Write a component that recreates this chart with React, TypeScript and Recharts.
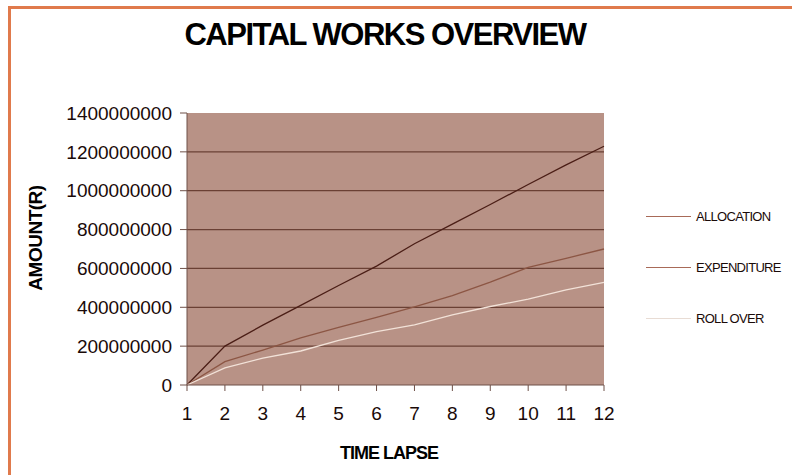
import React from "react";
import {
  LineChart,
  Line,
  XAxis,
  YAxis,
  CartesianGrid,
} from "recharts";

// time lapse periods
const periods = [1, 2, 3, 4, 5, 6, 7, 8, 9, 10, 11, 12];

// amounts in rand
const allocation = [
  0, 200000000, 308000000, 410000000, 512000000, 612000000, 727000000,
  828000000, 929000000, 1032000000, 1133000000, 1229000000,
];
const expenditure = [
  0, 120000000, 180000000, 242000000, 296000000, 348000000, 402000000,
  460000000, 530000000, 605000000, 652000000, 700000000,
];
const rollOver = [
  0, 88000000, 138000000, 175000000, 230000000, 275000000, 310000000,
  361000000, 404000000, 442000000, 490000000, 528000000,
];

const yTicks = [
  0, 200000000, 400000000, 600000000, 800000000, 1000000000, 1200000000,
  1400000000,
];
const gridValues = yTicks.slice(1, -1);

const SERIES = [
  { key: "allocation", name: "ALLOCATION", color: "#4b1e16", legend: "#a86a58" },
  { key: "expenditure", name: "EXPENDITURE", color: "#8c5644", legend: "#a86a58" },
  { key: "rollOver", name: "ROLL OVER", color: "#f2e2d8", legend: "#e8dcd4" },
];

const data = periods.map((p, i) => ({
  period: p,
  allocation: allocation[i],
  expenditure: expenditure[i],
  rollOver: rollOver[i],
}));

const FONT = '"Liberation Sans", Arial, sans-serif';
const TICK = { fill: "#1a0a08", fontSize: 19, fontFamily: FONT };

export default function App() {
  return (
    <div
      style={{
        position: "absolute",
        left: 0,
        top: 0,
        width: 792,
        height: 475,
        background: "#fff",
        overflow: "hidden",
      }}
    >
      {/* orange frame, only top and left edges show */}
      <div
        style={{
          position: "absolute",
          left: 8,
          top: 6,
          width: 900,
          height: 600,
          borderTop: "3px solid #e07a4c",
          borderLeft: "3px solid #e07a4c",
        }}
      />
      <div
        style={{
          position: "absolute",
          left: 0,
          width: 770,
          top: 17,
          textAlign: "center",
          fontFamily: FONT,
          fontWeight: "bold",
          fontSize: 31,
          letterSpacing: -1.5,
          color: "#000",
        }}
      >
        CAPITAL WORKS OVERVIEW
      </div>
      <div
        style={{
          position: "absolute",
          left: 36,
          top: 238,
          transform: "translate(-50%, -50%) rotate(-90deg)",
          fontFamily: FONT,
          fontWeight: "bold",
          fontSize: 19,
          letterSpacing: -0.5,
          whiteSpace: "nowrap",
          color: "#000",
        }}
      >
        AMOUNT(R)
      </div>
      <div
        style={{
          position: "absolute",
          left: 389,
          top: 453,
          transform: "translate(-50%, -50%)",
          fontFamily: FONT,
          fontWeight: "bold",
          fontSize: 18,
          letterSpacing: -1,
          whiteSpace: "nowrap",
          color: "#000",
        }}
      >
        TIME LAPSE
      </div>
      <div style={{ position: "absolute", left: 0, top: 0 }}>
        <LineChart
          width={792}
          height={475}
          data={data}
          margin={{ top: 113, right: 188, bottom: 50, left: 107 }}
        >
          <CartesianGrid
            vertical={false}
            fill="#b89286"
            stroke="#6a4034"
            strokeWidth={1.2}
            horizontalValues={gridValues}
          />
          <XAxis
            dataKey="period"
            type="number"
            domain={[1, 12]}
            ticks={periods}
            height={40}
            tick={TICK}
            tickMargin={16}
            tickSize={6}
            stroke="#6e5048"
            interval={0}
          />
          <YAxis
            type="number"
            domain={[0, 1400000000]}
            ticks={yTicks}
            width={80}
            tick={TICK}
            tickSize={7}
            tickMargin={8}
            stroke="#6e5048"
            interval={0}
          />
          {SERIES.map((s) => (
            <Line
              key={s.key}
              type="linear"
              dataKey={s.key}
              name={s.name}
              stroke={s.color}
              strokeWidth={1.3}
              dot={false}
              isAnimationActive={false}
            />
          ))}
        </LineChart>
      </div>
      {/* legend */}
      <div
        style={{ position: "absolute", left: 646, top: 191, fontFamily: FONT }}
      >
        {SERIES.map((s) => (
          <div
            key={s.key}
            style={{ display: "flex", alignItems: "center", height: 51 }}
          >
            <div style={{ width: 45, height: 1, background: s.legend }} />
            <span
              style={{
                marginLeft: 5,
                fontSize: 13,
                letterSpacing: -0.7,
                color: "#1a0a08",
              }}
            >
              {s.name}
            </span>
          </div>
        ))}
      </div>
    </div>
  );
}
